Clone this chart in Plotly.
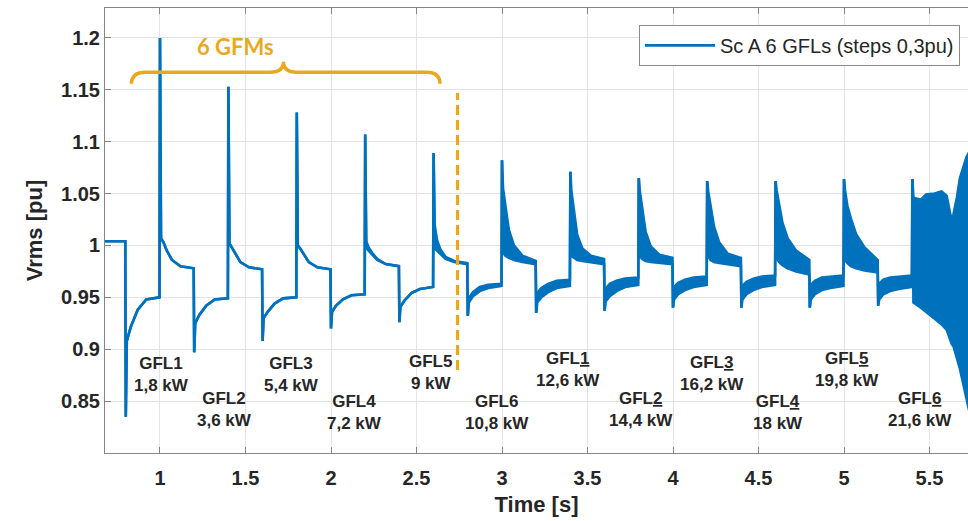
import plotly.graph_objects as go

# RMS voltage at the PCC, sampled at the breakpoints of the transient.
# v_lo / v_hi are the lower and upper envelope of the trace; where the
# trace is a clean line both are equal, where it rings they bound the band.
t_s = [
    0.600, 0.797,
    0.800, 0.806, 0.830, 0.870, 0.920, 0.997, 1.000, 1.006, 1.020, 1.040, 1.070, 1.120, 1.197,
    1.200, 1.206, 1.230, 1.270, 1.320, 1.397, 1.400, 1.406, 1.420, 1.440, 1.470, 1.520, 1.597,
    1.600, 1.606, 1.630, 1.670, 1.720, 1.797, 1.800, 1.806, 1.820, 1.840, 1.870, 1.920, 1.997,
    2.000, 2.006, 2.030, 2.070, 2.120, 2.197, 2.200, 2.206, 2.220, 2.240, 2.270, 2.320, 2.397,
    2.400, 2.406, 2.430, 2.470, 2.520, 2.597, 2.600, 2.606, 2.620, 2.640, 2.670, 2.720, 2.797,
    2.800, 2.806, 2.830, 2.870, 2.920, 2.997, 3.000, 3.006, 3.020, 3.040, 3.070, 3.120, 3.197,
    3.200, 3.206, 3.230, 3.270, 3.320, 3.397, 3.400, 3.406, 3.420, 3.440, 3.470, 3.520, 3.597,
    3.600, 3.606, 3.630, 3.670, 3.720, 3.797, 3.800, 3.806, 3.820, 3.840, 3.870, 3.920, 3.997,
    4.000, 4.006, 4.030, 4.070, 4.120, 4.197, 4.200, 4.206, 4.220, 4.240, 4.270, 4.320, 4.397,
    4.400, 4.406, 4.430, 4.470, 4.520, 4.597, 4.600, 4.606, 4.620, 4.640, 4.670, 4.720, 4.797,
    4.800, 4.806, 4.830, 4.870, 4.920, 4.997, 5.000, 5.006, 5.020, 5.040, 5.070, 5.120, 5.197,
    5.200, 5.206, 5.230, 5.270, 5.320, 5.397, 5.400,
    5.406, 5.450, 5.480, 5.530, 5.570, 5.600, 5.620, 5.630, 5.640, 5.660, 5.678, 5.690, 5.716, 5.740,
]
v_lo = [
    1.004, 1.004,
    0.835, 0.908, 0.922, 0.938, 0.948, 0.950, 1.200, 1.007, 1.003, 0.995, 0.986, 0.980, 0.978,
    0.897, 0.925, 0.933, 0.942, 0.948, 0.949, 1.153, 1.002, 0.998, 0.992, 0.984, 0.979, 0.977,
    0.908, 0.930, 0.936, 0.944, 0.949, 0.950, 1.128, 1.000, 0.997, 0.992, 0.984, 0.979, 0.977,
    0.920, 0.936, 0.942, 0.948, 0.952, 0.953, 1.107, 0.998, 0.995, 0.991, 0.986, 0.982, 0.980,
    0.926, 0.941, 0.947, 0.954, 0.958, 0.960, 1.089, 0.997, 0.995, 0.992, 0.987, 0.984, 0.982,
    0.932, 0.945, 0.951, 0.956, 0.959, 0.961, 1.082, 0.993, 0.990, 0.988, 0.986, 0.984, 0.982,
    0.935, 0.945, 0.950, 0.955, 0.959, 0.961, 1.071, 0.990, 0.988, 0.986, 0.985, 0.984, 0.982,
    0.937, 0.946, 0.951, 0.956, 0.960, 0.962, 1.065, 0.990, 0.987, 0.985, 0.984, 0.983, 0.982,
    0.940, 0.948, 0.953, 0.957, 0.960, 0.962, 1.062, 0.990, 0.986, 0.984, 0.983, 0.982, 0.980,
    0.940, 0.948, 0.953, 0.957, 0.960, 0.962, 1.062, 0.988, 0.984, 0.981, 0.978, 0.975, 0.972,
    0.940, 0.948, 0.953, 0.957, 0.959, 0.961, 1.064, 0.986, 0.983, 0.980, 0.978, 0.976, 0.974,
    0.942, 0.948, 0.953, 0.956, 0.958, 0.960, 1.064,
    0.945, 0.940, 0.936, 0.930, 0.924, 0.919, 0.910, 0.905, 0.903, 0.892, 0.881, 0.872, 0.852, 0.835,
]
v_hi = [
    1.004, 1.004,
    0.835, 0.908, 0.922, 0.938, 0.948, 0.950, 1.200, 1.007, 1.003, 0.995, 0.986, 0.980, 0.978,
    0.897, 0.925, 0.933, 0.942, 0.948, 0.949, 1.153, 1.002, 0.998, 0.992, 0.984, 0.979, 0.977,
    0.908, 0.930, 0.936, 0.944, 0.949, 0.950, 1.128, 1.000, 0.997, 0.992, 0.984, 0.979, 0.977,
    0.920, 0.936, 0.942, 0.948, 0.952, 0.953, 1.107, 1.004, 0.998, 0.993, 0.987, 0.982, 0.980,
    0.926, 0.941, 0.947, 0.954, 0.958, 0.960, 1.089, 1.020, 1.005, 0.996, 0.989, 0.985, 0.983,
    0.932, 0.949, 0.955, 0.960, 0.962, 0.963, 1.082, 1.055, 1.038, 1.015, 1.000, 0.990, 0.985,
    0.935, 0.954, 0.959, 0.963, 0.966, 0.967, 1.071, 1.052, 1.034, 1.010, 0.997, 0.990, 0.987,
    0.937, 0.958, 0.963, 0.966, 0.968, 0.969, 1.065, 1.052, 1.034, 1.013, 0.999, 0.991, 0.988,
    0.940, 0.960, 0.964, 0.967, 0.969, 0.970, 1.062, 1.052, 1.036, 1.018, 1.003, 0.992, 0.988,
    0.940, 0.961, 0.965, 0.968, 0.970, 0.971, 1.062, 1.053, 1.040, 1.022, 1.007, 0.995, 0.986,
    0.940, 0.962, 0.966, 0.969, 0.970, 0.971, 1.064, 1.053, 1.038, 1.026, 1.011, 0.998, 0.986,
    0.942, 0.963, 0.967, 0.969, 0.970, 0.971, 1.064,
    1.046, 1.044, 1.049, 1.050, 1.052, 1.048, 1.033, 1.023, 1.030, 1.046, 1.065, 1.072, 1.085, 1.092,
]

# Grid-following inverter steps: label, cumulative power, label anchor (s, pu)
gfl_names = ["GFL1", "GFL2", "GFL3", "GFL4", "GFL5", "GFL6",
             "GFL<u>1</u>", "GFL<u>2</u>", "GFL<u>3</u>", "GFL<u>4</u>", "GFL<u>5</u>", "GFL<u>6</u>"]
gfl_power = ["1,8 kW", "3,6 kW", "5,4 kW", "7,2 kW", "9 kW", "10,8 kW",
             "12,6 kW", "14,4 kW", "16,2 kW", "18 kW", "19,8 kW", "21,6 kW"]
gfl_x = [1.010, 1.380, 1.770, 2.140, 2.579, 2.969, 3.388, 3.813, 4.226, 4.616, 5.016, 5.444]
gfl_y = [0.876, 0.842, 0.876, 0.839, 0.878, 0.839, 0.880, 0.842, 0.877, 0.839, 0.880, 0.842]

x_ticks = [1, 1.5, 2, 2.5, 3, 3.5, 4, 4.5, 5, 5.5]
x_labels = ["1", "1.5", "2", "2.5", "3", "3.5", "4", "4.5", "5", "5.5"]
y_ticks = [0.85, 0.9, 0.95, 1.0, 1.05, 1.1, 1.15, 1.2]
y_labels = ["0.85", "0.9", "0.95", "1", "1.05", "1.1", "1.15", "1.2"]

BLUE = "#0072BD"
ORANGE = "#EBA81F"
TXT = "#262626"
AXIS = "#858585"

fig = go.Figure()
fig.add_trace(go.Scatter(
    x=t_s, y=v_lo, mode="lines", name="Sc A 6 GFLs (steps 0,3pu)",
    line=dict(color=BLUE, width=2.6), showlegend=True,
))
fig.add_trace(go.Scatter(
    x=t_s, y=v_hi, mode="lines", fill="tonexty", fillcolor=BLUE,
    line=dict(color=BLUE, width=2.6), showlegend=False,
))

annotations = []
for name, pw, gx, gy in zip(gfl_names, gfl_power, gfl_x, gfl_y):
    annotations.append(dict(
        x=gx, y=gy, xref="x", yref="y", text=f"{name}<br>{pw}", showarrow=False,
        font=dict(family="Liberation Sans", size=17, color=TXT, weight="bold"),
        align="center", xanchor="center", yanchor="middle",
    ))
annotations.append(dict(
    x=1.4386, y=1.1913, xref="x", yref="y", text="6 GFMs", showarrow=False,
    font=dict(family="Lato", size=22, color=ORANGE, weight="bold"),
    xanchor="center", yanchor="middle",
))

shapes = [
    # brace spanning the grid-forming stage
    dict(type="path", xref="x", yref="y",
         path=("M 0.8333,1.1558 Q 0.8333,1.1668 0.9181,1.1668 L 1.6433,1.1668 "
               "Q 1.7222,1.1668 1.7222,1.1769 Q 1.7222,1.1668 1.8012,1.1668 "
               "L 2.5556,1.1668 Q 2.6374,1.1668 2.6374,1.1558"),
         line=dict(color=ORANGE, width=3.5)),
    # end of the grid-forming stage
    dict(type="line", xref="x", yref="y", x0=2.74, x1=2.74, y0=0.880, y1=1.147,
         line=dict(color=ORANGE, width=3.2, dash="10px,5px")),
]

fig.update_layout(
    width=968, height=521,
    margin=dict(l=105, r=0, t=8, b=68),
    paper_bgcolor="white", plot_bgcolor="white",
    showlegend=True,
    legend=dict(
        x=0.9907, y=0.962, xanchor="right", yanchor="top",
        bgcolor="white", bordercolor="#8a8a8a", borderwidth=1,
        font=dict(family="Liberation Sans", size=20, color=TXT),
        itemwidth=70,
    ),
    annotations=annotations,
    shapes=shapes,
)
fig.update_xaxes(
    range=[0.6784, 5.7251], tickvals=x_ticks, ticktext=x_labels,
    showgrid=True, gridcolor="#e4e4e4", gridwidth=1, zeroline=False,
    showline=True, linecolor=AXIS, linewidth=1, mirror="ticks",
    ticks="inside", ticklen=6, tickcolor=AXIS, ticklabelstandoff=7,
    tickfont=dict(family="Liberation Sans", size=20, color=TXT, weight="bold"),
    title=dict(text="Time [s]", standoff=8,
               font=dict(family="Liberation Sans", size=22, color=TXT, weight="bold")),
)
fig.update_yaxes(
    range=[0.8, 1.2288], tickvals=y_ticks, ticktext=y_labels,
    showgrid=True, gridcolor="#e4e4e4", gridwidth=1, zeroline=False,
    showline=True, linecolor=AXIS, linewidth=1, mirror=False,
    ticks="inside", ticklen=6, tickcolor=AXIS,
    tickfont=dict(family="Liberation Sans", size=20, color=TXT, weight="bold"),
    title=dict(text="Vrms [pu]", standoff=12,
               font=dict(family="Liberation Sans", size=22, color=TXT, weight="bold")),
)

fig.write_html("out.html")
